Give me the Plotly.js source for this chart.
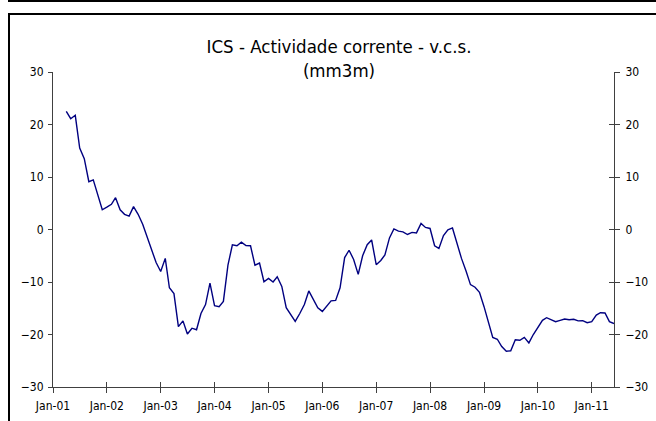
<!DOCTYPE html>
<html>
<head>
<meta charset="utf-8">
<script src="https://cdn.plot.ly/plotly-3.0.1.min.js"></script>
<style>
  html, body { margin: 0; padding: 0; background: #fff; }
  #chart { width: 656px; height: 421px; }
</style>
</head>
<body>
<div id="chart"></div>
<script>
// Monthly 3-month moving average, Apr-2001 .. Jun-2011
const startYear = 2001;
const startMonth = 4; // April
const values2001 = [22.5, 21.1, 21.75, 15.5, 13.5, 9.1, 9.45, 6.6, 3.75];
const values2002 = [4.25, 4.8, 6.05, 3.75, 2.9, 2.55, 4.35, 2.9, 1.0, -1.4, -3.5, -6.3];
const values2003 = [-8.0, -5.5, -11.1, -12.2, -18.5, -17.4, -19.9, -18.8, -19.1, -16.0, -14.3, -10.2];
const values2004 = [-14.5, -14.7, -13.7, -6.8, -2.9, -3.1, -2.4, -3.05, -3.1, -6.8, -6.4, -9.95];
const values2005 = [-9.3, -10.0, -9.0, -10.85, -14.9, -16.1, -17.5, -16.0, -14.3, -11.7, -13.2, -14.9];
const values2006 = [-15.6, -14.6, -13.6, -13.5, -11.1, -5.35, -3.95, -5.7, -8.55, -5.0, -2.9, -2.0];
const values2007 = [-6.7, -5.9, -4.85, -1.6, 0.1, -0.3, -0.45, -0.95, -0.55, -0.65, 1.15, 0.4];
const values2008 = [0.2, -3.1, -3.6, -1.15, -0.05, 0.3, -2.7, -5.5, -7.9, -10.5, -11.0, -11.95];
const values2009 = [-14.7, -17.9, -20.55, -20.9, -22.3, -23.2, -23.1, -21.0, -21.1, -20.55, -21.6, -20.0];
const values2010 = [-18.7, -17.3, -16.8, -17.2, -17.55, -17.3, -17.05, -17.2, -17.1, -17.4, -17.35, -17.75];
const values2011 = [-17.55, -16.3, -15.85, -15.9, -17.55, -17.9];

const yTickVals = [-30, -20, -10, 0, 10, 20, 30];
const xRange = ['2001-01-01', '2011-06-01'];
const titleText = 'ICS - Actividade corrente - v.c.s.<br>(mm3m)';

const values = [].concat(values2001, values2002, values2003, values2004, values2005,
  values2006, values2007, values2008, values2009, values2010, values2011);
const dates = values.map((v, i) => {
  const m0 = (startMonth - 1) + i;
  const y = startYear + Math.floor(m0 / 12);
  const m = (m0 % 12) + 1;
  return y + '-' + String(m).padStart(2, '0') + '-01';
});

const W = 656, H = 421;
const M = { l: 53, r: 42, t: 72, b: 34 };
const pw = W - M.l - M.r, ph = H - M.t - M.b;
const px = x => (x - M.l) / pw;
const py = y => (H - M.b - y) / ph;

const FONT = 'DejaVu Sans Condensed, DejaVu Sans, sans-serif';
const axisColor = '#404040';

const trace = {
  x: dates, y: values, type: 'scatter', mode: 'lines',
  line: { color: '#000080', width: 1.4 },
  hoverinfo: 'skip', showlegend: false
};
// invisible copies so the overlaying axes (cross ticks, right axis) are drawn
const ghost2 = { x: dates, y: values, xaxis: 'x2', yaxis: 'y2', type: 'scatter', mode: 'lines',
  line: { width: 0, color: 'rgba(0,0,0,0)' }, hoverinfo: 'skip', showlegend: false };
const ghost3 = { x: dates, y: values, xaxis: 'x', yaxis: 'y3', type: 'scatter', mode: 'lines',
  line: { width: 0, color: 'rgba(0,0,0,0)' }, hoverinfo: 'skip', showlegend: false };

const commonX = {
  type: 'date', range: xRange, tick0: '2001-01-01', dtick: 'M12',
  tickformat: '%b-%y', showgrid: false, zeroline: false, showline: true,
  linecolor: axisColor, linewidth: 1, tickcolor: axisColor, ticklen: 5, tickwidth: 1,
  fixedrange: true
};
const commonY = {
  range: [-30, 30], tickvals: yTickVals, showgrid: false, zeroline: false,
  showline: true, linecolor: axisColor, linewidth: 1, tickcolor: axisColor,
  tickwidth: 1, fixedrange: true
};

const layout = {
  width: W, height: H,
  margin: M,
  paper_bgcolor: '#ffffff', plot_bgcolor: 'rgba(0,0,0,0)',
  font: { family: FONT, size: 12, color: '#000' },
  title: {
    text: titleText,
    font: { family: FONT, size: 18.5, color: '#000' },
    x: 339 / W, xanchor: 'center', xref: 'container',
    y: 1 - 53 / H, yanchor: 'top', yref: 'container'
  },
  xaxis: Object.assign({}, commonX, { ticks: 'outside', anchor: 'y', ticklabelstandoff: 3 }),
  xaxis2: Object.assign({}, commonX, { ticks: 'inside', showticklabels: false, overlaying: 'x', anchor: 'y', side: 'bottom' }),
  yaxis: Object.assign({}, commonY, { side: 'left', ticks: 'outside', ticklen: 4, ticklabelstandoff: 2 }),
  yaxis2: Object.assign({}, commonY, { side: 'right', ticks: 'outside', ticklen: 5, overlaying: 'y', anchor: 'x2', ticklabelstandoff: 3 }),
  yaxis3: Object.assign({}, commonY, { side: 'right', ticks: 'inside', ticklen: 5, showticklabels: false, overlaying: 'y', anchor: 'x' }),
  shapes: [
    { type: 'line', xref: 'paper', yref: 'paper', x0: px(8), x1: px(660), y0: py(1), y1: py(1), line: { color: '#000', width: 2 } },
    { type: 'line', xref: 'paper', yref: 'paper', x0: px(9), x1: px(660), y0: py(14), y1: py(14), line: { color: '#000', width: 2 } },
    { type: 'line', xref: 'paper', yref: 'paper', x0: px(9), x1: px(9), y0: py(13), y1: py(430), line: { color: '#000', width: 2 } }
  ]
};

Plotly.newPlot('chart', [ghost2, ghost3, trace], layout, { staticPlot: true, displayModeBar: false });
</script>
</body>
</html>
